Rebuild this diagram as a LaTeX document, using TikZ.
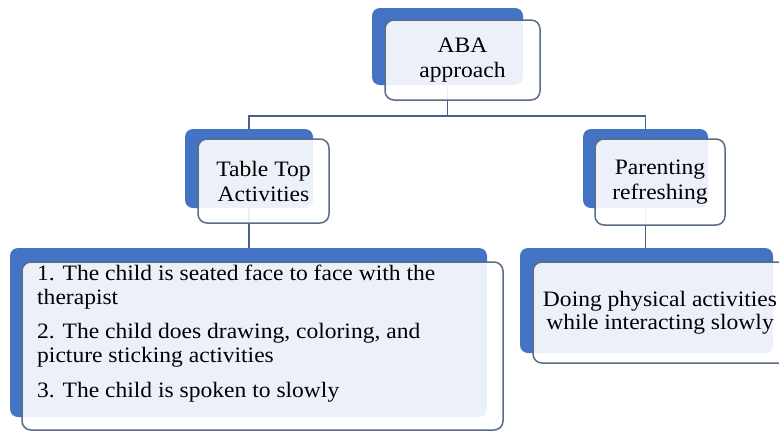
\documentclass[tikz,border=0pt]{standalone}
\usepackage{fontspec}
\setmainfont{Liberation Serif}[FakeStretch=1.07]
\definecolor{backblue}{HTML}{4472C4}
\definecolor{frontline}{HTML}{5B6C88}
\definecolor{linkcol}{HTML}{4A5F8F}
\begin{document}
\begin{tikzpicture}[x=1pt,y=-1pt,
  backbox/.style={fill=backblue,draw=none,rounded corners=8pt,inner sep=0pt},
  frontbox/.style={fill=white,fill opacity=0.9,text opacity=1,draw=frontline,line width=1.5pt,rounded corners=9pt,inner sep=0pt,align=center,font=\fontsize{22}{25}\selectfont},
  textblock/.style={inner sep=0pt,align=left,font=\fontsize{22}{24}\selectfont},
  link/.style={draw=linkcol,line width=1.8pt}]
\fill[white] (0,0) rectangle (779,432);
\useasboundingbox (0,0) rectangle (779,432);
\clip (0,0) rectangle (779,432);
% back boxes
\node[backbox,minimum width=151pt,minimum height=77pt] (abaB) at (447.5,46.5) {};
\node[backbox,minimum width=128pt,minimum height=79pt] (tabB) at (249,168.5) {};
\node[backbox,minimum width=125pt,minimum height=79pt] (parB) at (645.5,168.5) {};
\node[backbox,minimum width=477pt,minimum height=169pt] (leftB) at (248.5,332.5) {};
\node[backbox,minimum width=253pt,minimum height=105pt] (rightB) at (646.5,300.5) {};
% connectors
\coordinate (bus) at (447.5,116);
\draw[link] (abaB.south) -- (abaB.south |- bus);
\draw[link] (tabB.north) |- (bus) -| (parB.north);
\draw[link] (tabB.south) -- (tabB.south |- leftB.north);
\draw[link] (parB.south) -- (parB.south |- rightB.north);
% front boxes
\node[frontbox,minimum width=155pt,minimum height=80pt] (aba) at (462.5,60) {ABA\\approach};
\node[frontbox,minimum width=131pt,minimum height=84pt] (tab) at (263.5,181) {Table Top\\Activities};
\node[frontbox,minimum width=130pt,minimum height=86pt] (par) at (660,182) {Parenting\\refreshing};
\node[frontbox,minimum width=481pt,minimum height=168pt] (left) at (262.5,346) {};
\node[frontbox,minimum width=257pt,minimum height=101pt] (right) at (661.5,312.5) {};
% texts
\node[textblock,anchor=north west] (lefttext) at (37,264.5)
 {1. The child is seated face to face with the\\
  therapist\\[10pt]
  2. The child does drawing, coloring, and\\
  picture sticking activities\\[11pt]
  3. The child is spoken to slowly};
\node[inner sep=0pt,align=center,font=\fontsize{22}{23}\selectfont] (righttext) at (660,313)
 {Doing physical activities\\while interacting slowly};
\end{tikzpicture}
\end{document}
